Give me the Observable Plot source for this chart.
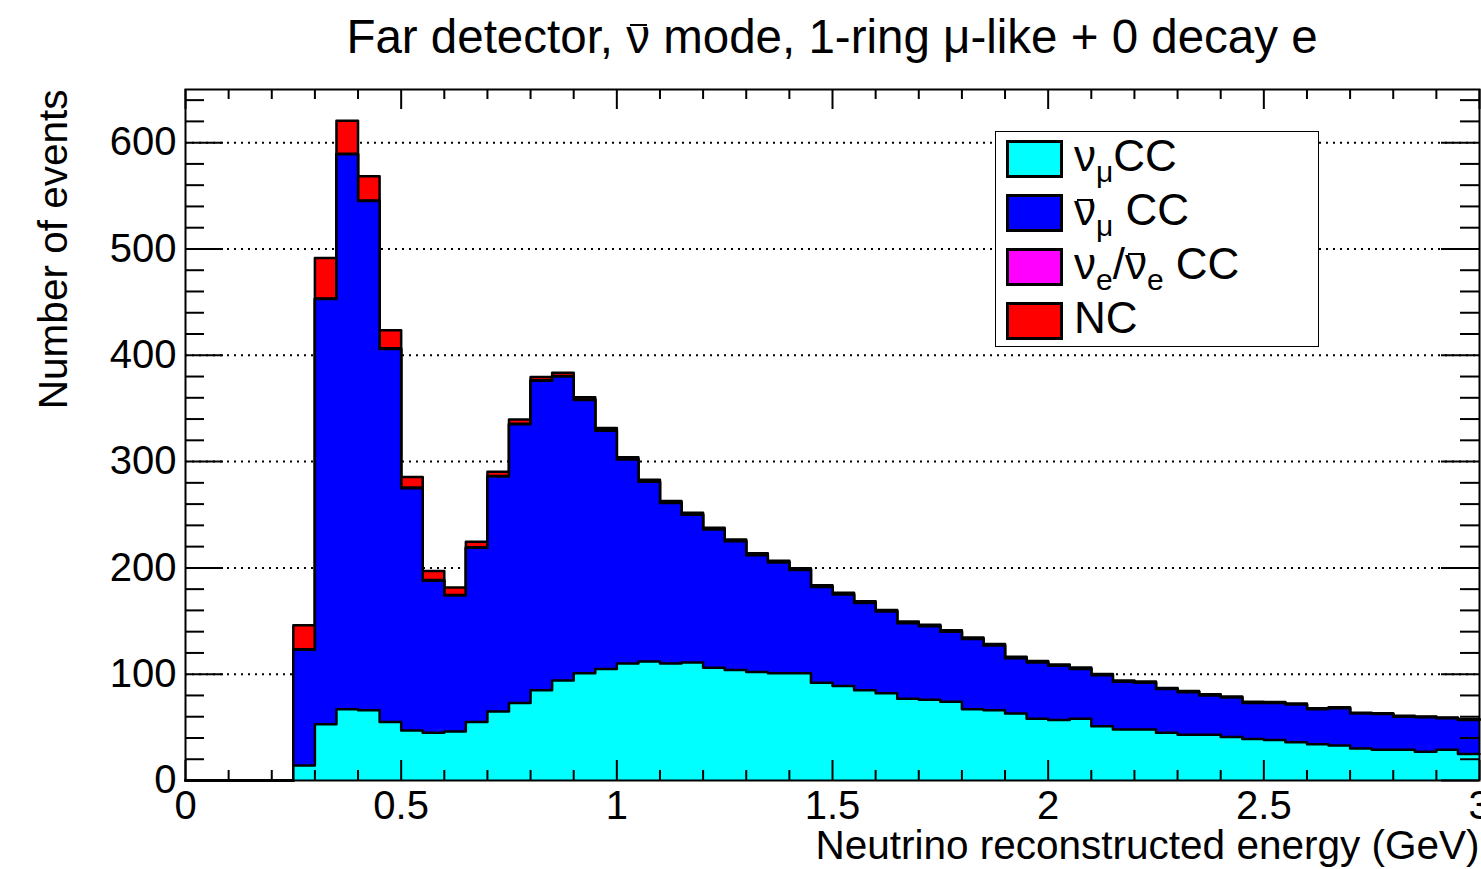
<!DOCTYPE html>
<html><head><meta charset="utf-8">
<script src="https://cdn.jsdelivr.net/npm/d3@7"></script>
<script src="https://cdn.jsdelivr.net/npm/@observablehq/plot@0.6"></script>
<style>
html,body{margin:0;padding:0;background:#fff;}
#wrap{position:relative;width:1481px;height:869px;font-family:"Liberation Sans",Arial,Helvetica,sans-serif;color:#000;}
#title{position:absolute;left:185px;width:1294px;top:13px;text-align:center;font-size:47.5px;line-height:1;white-space:nowrap;}
.bar{position:relative;display:inline-block;line-height:1;}
.bar::before{content:"";position:absolute;left:0.07em;right:0.07em;top:0.24em;border-top:0.06em solid #000;}
#legend{position:absolute;left:995px;top:131px;width:324px;height:216px;border:1.5px solid #000;background:#fff;box-sizing:border-box;}
.row{position:absolute;left:10px;height:38px;white-space:nowrap;}
.sw{position:absolute;left:0;top:0;width:57px;height:38px;border:3px solid #000;box-sizing:border-box;}
.lt{position:absolute;left:68px;top:-6px;font-size:44px;line-height:1;}
.lt sub{font-size:30px;vertical-align:-11px;line-height:0;}
</style>
</head><body>
<div id="wrap">
  <div id="chart"></div>
  <div id="title">Far detector, <span class="bar">ν</span> mode, 1-ring μ-like + 0 decay e</div>
  <div id="legend"></div>
</div>
<script>
// bin lower edges (GeV), bin width 0.05
const binLow = [0,0.05,0.1,0.15,0.2,0.25,0.3,0.35,0.4,0.45,0.5,0.55,0.6,0.65,0.7,0.75,0.8,0.85,0.9,0.95,
  1,1.05,1.1,1.15,1.2,1.25,1.3,1.35,1.4,1.45,1.5,1.55,1.6,1.65,1.7,1.75,1.8,1.85,1.9,1.95,
  2,2.05,2.1,2.15,2.2,2.25,2.3,2.35,2.4,2.45,2.5,2.55,2.6,2.65,2.7,2.75,2.8,2.85,2.9,2.95];
const binWidth = 0.05;

const numuCC = [0,0,0,0,0, 14,53,67,66,55, 47,45,46,55,65, 73,85,94,101,105,
  110,112,110,111,106, 104,102,101,101,92, 89,85,82,77,76, 74,67,66,63,58,
  57,58,51,48,48, 45,43,43,41,39, 38,36,34,33,30, 29,29,27,29,25];
const antinumuCC = [0,0,0,0,0, 109,400,522,479,351, 228,143,128,164,221, 262,291,286,257,224,
  192,169,151,139,130, 121,110,104,97,90, 86,82,77,71,69, 66,66,61,52,53,
  51,47,48,45,44, 41,40,37,37,34, 35,35.5,33,35,33, 33.5,31,32.5,29.5,32];
const nueCC = [0,0,0,0,0, 0.5,0.5,0.5,0.5,0.5, 0.5,0.5,0.5,0.5,0.5, 0.5,0.5,0.5,0.5,0.5,
  0.5,0.5,0.5,0.5,0.5, 0.5,0.5,0.5,0.5,0.5, 0.5,0.5,0.5,0.5,0.5, 0.5,0.5,0.5,0.5,0.5,
  0.4,0.4,0.4,0.4,0.4, 0.4,0.4,0.4,0.4,0.4, 0.3,0.3,0.3,0.3,0.3, 0.3,0.3,0.3,0.3,0.3];
const NC = [0,0,0,0,0, 22.5,38,31,23,17, 10,8.5,7,5,4, 4,3,3,2,2,
  1.5,1.5,1.4,1.4,1.3, 1.3,1.3,1.2,1.2,1.2, 1.1,1.1,1.0,1.0,1.0, 0.9,0.9,0.9,0.9,0.8,
  0.8,0.8,0.8,0.7,0.7, 0.7,0.7,0.7,0.6,0.6, 0.6,0.6,0.6,0.6,0.5, 0.5,0.5,0.5,0.5,0.5];

const seriesNames = ["νμ CC", "ν̄μ CC", "νe/ν̄e CC", "NC"];
const seriesColors = ["#00ffff", "#0000ff", "#ff00ff", "#ff0000"];

const xMajor = [0, 0.5, 1, 1.5, 2, 2.5, 3];
const yMajor = [0, 100, 200, 300, 400, 500, 600];
const gridY = [100, 200, 300, 400, 500, 600];
const xMinor = d3.range(1, 30).map(i => i / 10).filter(v => !xMajor.includes(v));
const yMinor = d3.range(1, 33).map(i => i * 20).filter(v => v % 100 !== 0);

// cumulative stack (bottom to top: numu, antinumu, nue, NC)
const comps = [numuCC, antinumuCC, nueCC, NC];
const cums = [];
let run = binLow.map(() => 0);
for (const c of comps) { run = run.map((v, i) => v + c[i]); cums.push(run); }
const stepRows = cum => binLow.map((x, i) => ({x, y: cum[i]})).concat([{x: binLow[binLow.length-1] + binWidth, y: cum[cum.length-1]}]);

const W = 1481, H = 869, mL = 185, mR = 2, mT = 89, mB = 89;
const innerH = H - mT - mB, innerW = W - mL - mR;

const layerMarks = [];
for (let k = comps.length - 1; k >= 0; k--) {
  const rows = stepRows(cums[k]);
  layerMarks.push(Plot.areaY(rows, {x: "x", y1: 0, y2: "y", curve: "step-after", fill: seriesColors[k]}));
  layerMarks.push(Plot.lineY(rows, {x: "x", y: "y", curve: "step-after", stroke: "#000", strokeWidth: 2.5}));
}

const chart = Plot.plot({
  width: W, height: H,
  marginLeft: mL, marginRight: mR, marginTop: mT, marginBottom: mB,
  style: {fontFamily: '"Liberation Sans", Arial, Helvetica, sans-serif', fontSize: "40px", color: "#000", background: "#fff"},
  x: {domain: [0, 3]},
  y: {domain: [0, 650]},
  marks: [
    Plot.ruleY(gridY, {stroke: "#000", strokeWidth: 2, strokeDasharray: "2,5"}),
    ...layerMarks,
    // ticks inside frame on all four sides
    Plot.tickX(xMajor, {x: d => d, insetTop: innerH - 20, stroke: "#000", strokeWidth: 2}),
    Plot.tickX(xMinor, {x: d => d, insetTop: innerH - 10, stroke: "#000", strokeWidth: 2}),
    Plot.tickX(xMajor, {x: d => d, insetBottom: innerH - 20, stroke: "#000", strokeWidth: 2}),
    Plot.tickX(xMinor, {x: d => d, insetBottom: innerH - 10, stroke: "#000", strokeWidth: 2}),
    Plot.tickY(yMajor, {y: d => d, insetRight: innerW - 38, stroke: "#000", strokeWidth: 2}),
    Plot.tickY(yMinor, {y: d => d, insetRight: innerW - 19, stroke: "#000", strokeWidth: 2}),
    Plot.tickY(yMajor, {y: d => d, insetLeft: innerW - 38, stroke: "#000", strokeWidth: 2}),
    Plot.tickY(yMinor, {y: d => d, insetLeft: innerW - 19, stroke: "#000", strokeWidth: 2}),
    Plot.frame({stroke: "#000", strokeWidth: 2}),
    Plot.axisX({ticks: xMajor, tickSize: 0, tickPadding: 10, tickFormat: d => String(d), label: null}),
    Plot.axisY({ticks: yMajor, tickSize: 0, tickPadding: 9, tickFormat: d => String(d), label: null}),
    Plot.text(["Neutrino reconstructed energy (GeV)"], {frameAnchor: "bottom-right", textAnchor: "end", lineAnchor: "top", dy: 50, fontSize: 40.5}),
    Plot.text(["Number of events"], {frameAnchor: "top-left", textAnchor: "end", lineAnchor: "bottom", rotate: -90, dx: -119, fontSize: 40.5})
  ]
});
document.getElementById("chart").appendChild(chart);

// legend (HTML overlay inside frame)
const legendHTML = [
  'ν<sub>μ</sub>CC',
  '<span class="bar">ν</span><sub>μ</sub> CC',
  'ν<sub>e</sub>/<span class="bar">ν</span><sub>e</sub> CC',
  'NC'
];
const rowTops = [8, 62, 116, 170];
const leg = document.getElementById("legend");
seriesNames.forEach((name, i) => {
  const r = document.createElement("div");
  r.className = "row";
  r.style.top = rowTops[i] + "px";
  r.innerHTML = `<div class="sw" style="background:${seriesColors[i]}"></div><div class="lt" title="${name}">${legendHTML[i]}</div>`;
  leg.appendChild(r);
});
</script>
</body></html>
